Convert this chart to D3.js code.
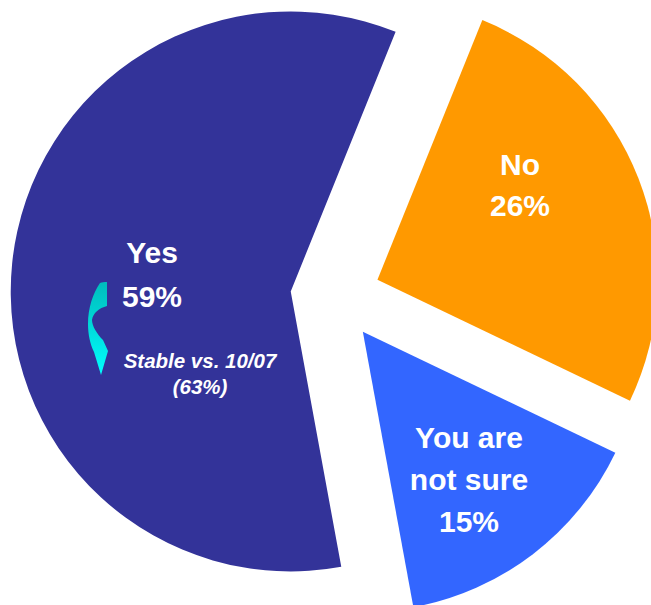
<!DOCTYPE html>
<html>
<head>
<meta charset="utf-8">
<script src="https://cdn.jsdelivr.net/npm/d3@7"></script>
<style>
  html, body { margin: 0; padding: 0; background: #ffffff; overflow: hidden; }
  svg { display: block; }
  text { font-family: "Liberation Sans", Arial, sans-serif; font-weight: bold; fill: #ffffff; }
</style>
</head>
<body>
<svg id="chart" width="651" height="605"></svg>
<script>
// Survey answers, in the order they are laid out clockwise
const categories = ["No", "You are not sure", "Yes"];
const values = [26, 15, 59];
const labelLines = [["No", "26%"], ["You are", "not sure", "15%"], ["Yes", "59%"]];
const noteLines = ["Stable vs. 10/07", "(63%)"];
const colors = ["#FF9900", "#3366FF", "#333399"];

const W = 651, H = 605;
const cx = 335.5, cy = 296, radius = 280, explode = 45;
const startDeg = 22;

const svg = d3.select("#chart");

const defs = svg.append("defs");
const grad = defs.append("linearGradient")
  .attr("id", "arrowGrad")
  .attr("x1", 0).attr("y1", 0).attr("x2", 0).attr("y2", 1);
grad.append("stop").attr("offset", "0%").attr("stop-color", "#00BDBD");
grad.append("stop").attr("offset", "45%").attr("stop-color", "#00D8D8");
grad.append("stop").attr("offset", "100%").attr("stop-color", "#00FFFF");

const a0 = startDeg * Math.PI / 180;
const pie = d3.pie().sort(null).value(d => d)
  .startAngle(a0).endAngle(a0 + 2 * Math.PI);
const arc = d3.arc().innerRadius(0).outerRadius(radius);

const arcs = pie(values);

const g = svg.append("g").attr("transform", `translate(${cx},${cy})`);

// each slice is pulled out along its bisector
function offset(d) {
  const m = (d.startAngle + d.endAngle) / 2;
  return [Math.sin(m) * explode, -Math.cos(m) * explode];
}

g.selectAll("path.slice")
  .data(arcs)
  .join("path")
  .attr("class", "slice")
  .attr("d", arc)
  .attr("fill", (d, i) => colors[i])
  .attr("transform", d => { const o = offset(d); return `translate(${o[0]},${o[1]})`; });

// label anchors (page coordinates) and line spacing per slice
const labelPos = [[520, 175], [469, 448], [152, 263]];
const lineGap = [41, 42, 44];

labelLines.forEach((lines, i) => {
  const t = svg.append("text")
    .attr("text-anchor", "middle")
    .attr("font-size", 30);
  lines.forEach((ln, k) => {
    t.append("tspan")
      .attr("x", labelPos[i][0])
      .attr("y", labelPos[i][1] + k * lineGap[i])
      .text(ln);
  });
});

// trend note under the Yes share
const note = svg.append("text")
  .attr("text-anchor", "middle")
  .attr("font-size", 20.5)
  .attr("font-style", "italic");
noteLines.forEach((ln, k) => {
  note.append("tspan").attr("x", 200).attr("y", 367.5 + k * 26).text(ln);
});

// curved downward arrow
svg.append("path")
  .attr("d", "M100,283 C93,293 88,308 88,324 C88,334 90,344 94,352 L101,375 L108,351 L103,340 C97,334 92,326 92,320 C93,313 99,308 107,306 L107,282 C104,282 102,282 100,283 Z")
  .attr("fill", "url(#arrowGrad)");
</script>
</body>
</html>
